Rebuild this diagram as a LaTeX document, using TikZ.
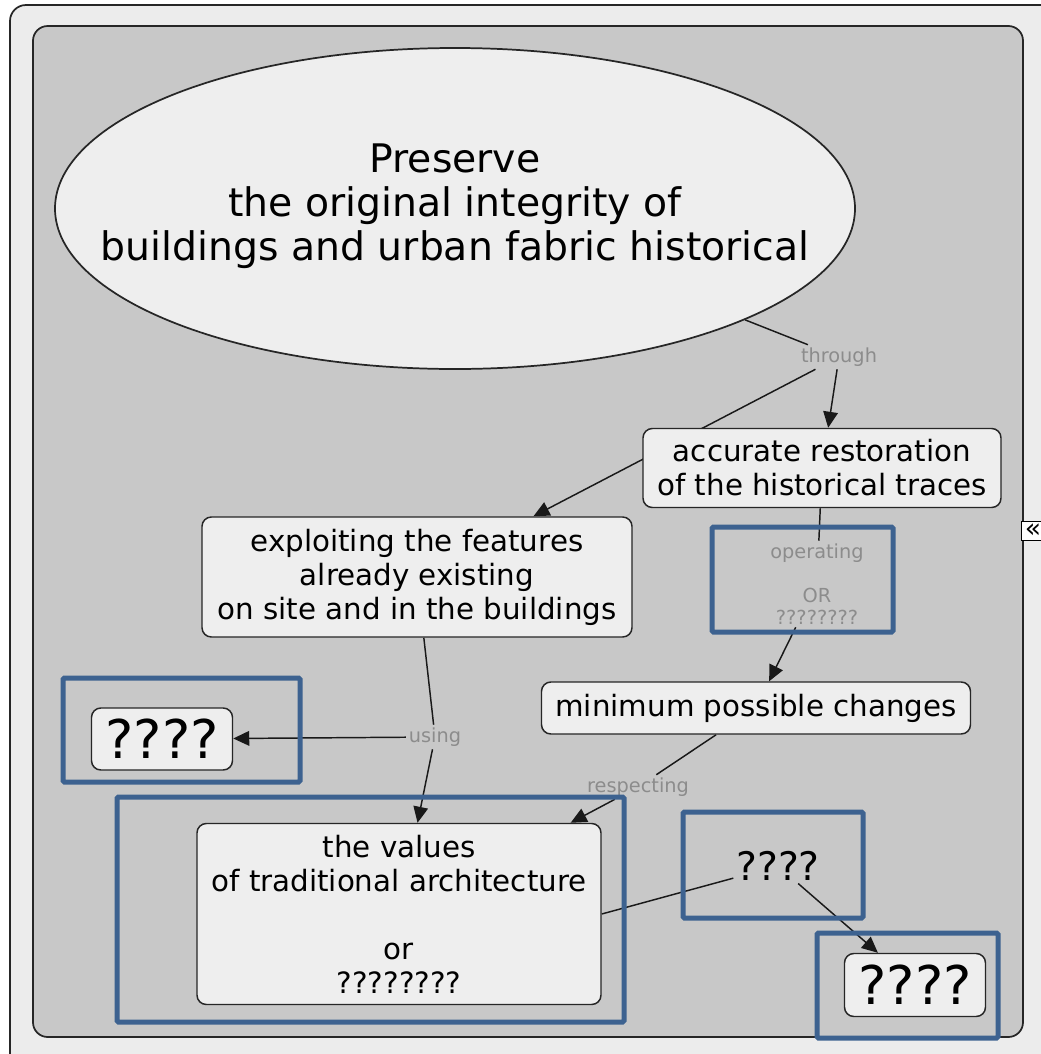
\documentclass[tikz,border=0pt]{standalone}
\usepackage{fontspec}
\setmainfont{DejaVu Sans}
\usetikzlibrary{arrows.meta,shapes.geometric}
\definecolor{panelgray}{HTML}{C8C8C8}
\definecolor{framegray}{HTML}{ECECEC}
\definecolor{boxfill}{HTML}{EEEEEE}
\definecolor{markblue}{HTML}{3D6290}
\definecolor{lblgray}{HTML}{8C8C8C}
\pgfdeclarelayer{bg}
\pgfdeclarelayer{links}
\pgfsetlayers{bg,links,main}

\begin{document}
\begin{tikzpicture}[x=0.75pt,y=-0.75pt,
  concept/.style={draw=black!85, line width=1.1pt, fill=boxfill, rounded corners=7pt,
    align=center, inner sep=0pt, font=\fontsize{22}{25.5}\selectfont},
  bigq/.style={concept, font=\fontsize{40}{44}\selectfont},
  size/.style 2 args={minimum width=#1*0.75pt, minimum height=#2*0.75pt},
  linklabel/.style={text=lblgray, align=center, inner sep=2pt,
    font=\fontsize{14.5}{16.5}\selectfont},
  link/.style={draw=black!90, line width=1.1pt},
  arrowlink/.style={link, -{Triangle[length=12pt,width=11pt]}},
  marker/.style={draw=markblue, line width=3.75pt, rounded corners=1pt}]

\useasboundingbox (0,0) rectangle (1040,1054);

% window frame and map panel
\begin{pgfonlayer}{bg}
  \fill[white] (0,0) rectangle (1040,1054);
  \draw[fill=framegray, draw=black!85, line width=1.3pt, rounded corners=12pt]
    (10,5) rectangle (1080,1090);
  \draw[fill=panelgray, draw=black!85, line width=1.3pt, rounded corners=11pt]
    (33,26) rectangle (1023,1037);
\end{pgfonlayer}

% concepts
\node[ellipse, draw=black!85, line width=1.3pt, fill=boxfill, inner sep=0pt,
  minimum width=800*0.75pt, minimum height=321*0.75pt] (goal) at (455,208.5) {};
\node[align=center, inner sep=0pt, font=\fontsize{29.5}{33}\selectfont]
  (goaltext) at (455,206)
  {Preserve\\the original integrity of\\buildings and urban fabric historical};
\node[concept, size={358}{79}] (restore) at (822,468)
  {accurate restoration\\of the historical traces};
\node[concept, size={430}{120}] (exploit) at (417,577)
  {exploiting the features\\already existing\\on site and in the buildings};
\node[concept, size={429}{52}] (minimum) at (756,708) {minimum possible changes};
\node[bigq, size={141}{62}] (qleft) at (162,739) {????};
\node[concept, size={404}{181}] (values) at (399,914)
  {the values\\of traditional architecture\\[25.5pt]or\\????????};
\node[bigq, size={141}{63}] (qright) at (915,985) {????};
\node[inner sep=2pt, font=\fontsize{29.5}{33}\selectfont] (qmid) at (778,866) {????};

% linking phrases
\node[linklabel] (through) at (839,357) {through};
\node[linklabel] (operating) at (817,584) {operating\\[16.5pt]OR\\????????};
\node[linklabel] (respecting) at (638,787) {respecting};
\node[linklabel] (using) at (435,737) {using};

% connectors
\begin{pgfonlayer}{links}
  \draw[link] (goal.-21.3) -- (through);
  \draw[arrowlink] (through) -- (restore);
  \draw[arrowlink] (through) -- (exploit);
  \draw[link] (restore) -- (operating);
  \draw[arrowlink] (operating) -- (minimum);
  \draw[link] (minimum) -- (respecting);
  \draw[arrowlink] (respecting) -- (values);
  \draw[link] (exploit) -- (using);
  \draw[arrowlink] (using) -- (qleft);
  \draw[arrowlink] (using) -- (values);
  \draw[link] (values.east) -- (qmid);
  \draw[arrowlink] (qmid) -- (qright);
\end{pgfonlayer}

% highlight frames
\draw[marker] (63,678) rectangle (300,782);
\draw[marker] (117,797) rectangle (624,1022);
\draw[marker] (683,812) rectangle (863,918);
\draw[marker] (817,933) rectangle (998,1038);
\draw[marker] (712,527) rectangle (893,632);

% collapse button
\node[draw=black, fill=white, line width=1pt, inner sep=0pt, minimum width=17pt,
  minimum height=14pt, font=\fontsize{20}{20}\selectfont] (collapse) at (1033,531) {«};
\end{tikzpicture}
\end{document}
